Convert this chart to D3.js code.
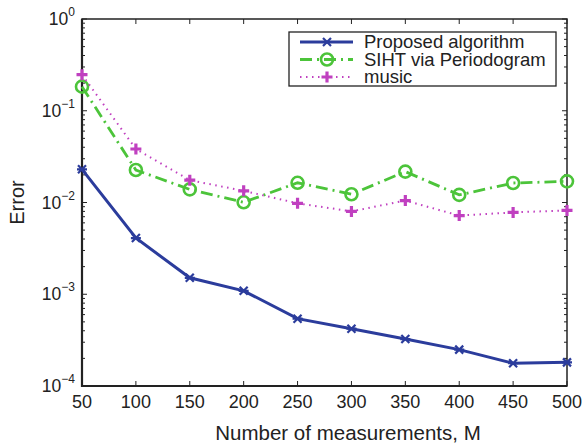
<html>
<head>
  <script src="https://d3js.org/d3.v7.min.js"></script>
  <style>
    body { margin: 0; background: #fff; }
    text { font-family: "Liberation Sans", Arial, sans-serif; fill: #222; }
    .frame { fill: none; stroke: #222; stroke-width: 1.5px; }
  </style>
</head>
<body>
  <svg id="chart" width="585" height="448"></svg>
  <script>
    // data
    const measurements = [50, 100, 150, 200, 250, 300, 350, 400, 450, 500];
    const proposed = [0.023, 0.0041, 0.00151, 0.00109, 0.000542, 0.000421, 0.000325, 0.000249, 0.000177, 0.000181];
    const siht = [0.183, 0.0226, 0.0139, 0.01005, 0.0164, 0.0123, 0.0217, 0.0121, 0.0163, 0.017];
    const music = [0.247, 0.0383, 0.0175, 0.0134, 0.0098, 0.0080, 0.0105, 0.0072, 0.0078, 0.0082];
    const seriesNames = ["Proposed algorithm", "SIHT via Periodogram", "music"];
    const xTicks = [50, 100, 150, 200, 250, 300, 350, 400, 450, 500];
    const yExponents = [0, -1, -2, -3, -4];

    const svg = d3.select("#chart");
    const margin = { top: 19, right: 18, bottom: 62, left: 82 };
    const w = 585 - margin.left - margin.right;
    const h = 448 - margin.top - margin.bottom;
    const g = svg.append("g").attr("transform", `translate(${margin.left},${margin.top})`);

    const x = d3.scaleLinear().domain([50, 500]).range([0, w]);
    const y = d3.scaleLog().domain([1e-4, 1]).range([h, 0]);

    // ticks, inward, on all four sides
    const minor = [];
    for (let e = -4; e < 0; e++) for (let k = 2; k <= 9; k++) minor.push(k * Math.pow(10, e));
    const ticks = g.append("g").attr("stroke", "#222").attr("stroke-width", 1);
    xTicks.forEach(t => {
      ticks.append("line").attr("x1", x(t)).attr("x2", x(t)).attr("y1", h).attr("y2", h - 5);
      ticks.append("line").attr("x1", x(t)).attr("x2", x(t)).attr("y1", 0).attr("y2", 5);
    });
    yExponents.forEach(e => {
      const v = Math.pow(10, e);
      ticks.append("line").attr("x1", 0).attr("x2", 5).attr("y1", y(v)).attr("y2", y(v));
      ticks.append("line").attr("x1", w).attr("x2", w - 5).attr("y1", y(v)).attr("y2", y(v));
    });
    minor.forEach(v => {
      ticks.append("line").attr("x1", 0).attr("x2", 3).attr("y1", y(v)).attr("y2", y(v));
      ticks.append("line").attr("x1", w).attr("x2", w - 3).attr("y1", y(v)).attr("y2", y(v));
    });

    g.append("rect").attr("class", "frame").attr("width", w).attr("height", h);
    // heavier left and bottom axis lines
    g.append("path").attr("d", `M0,0V${h}H${w}`).attr("fill", "none")
      .attr("stroke", "#222").attr("stroke-width", 2.2);

    // tick labels
    g.selectAll(".xlab").data(xTicks).join("text")
      .attr("x", d => x(d)).attr("y", h + 22)
      .attr("text-anchor", "middle").style("font-size", "18px")
      .text(d => d);

    const ylab = g.selectAll(".ylab").data(yExponents).join("text")
      .attr("x", -7).attr("y", d => y(Math.pow(10, d)) + 6)
      .attr("text-anchor", "end").style("font-size", "17.5px");
    ylab.append("tspan").text("10");
    ylab.append("tspan").attr("dy", -9).style("font-size", "12px")
      .text(d => d === 0 ? "0" : "\u2212" + (-d));

    // axis titles
    svg.append("text").attr("x", 348).attr("y", 440)
      .attr("text-anchor", "middle").style("font-size", "20.5px")
      .text("Number of measurements, M");
    svg.append("text").attr("transform", `translate(24,${margin.top + h / 2}) rotate(-90)`)
      .attr("text-anchor", "middle").style("font-size", "20px")
      .text("Error");

    // series
    const series = [
      { name: seriesNames[0], values: proposed, color: "#2b3c9c", dash: null, marker: "x", width: 3 },
      { name: seriesNames[1], values: siht, color: "#4cc43a", dash: "12,5,2,5", marker: "o", width: 2.8 },
      { name: seriesNames[2], values: music, color: "#c040c0", dash: "1.5,4.5", marker: "+", width: 2 }
    ];

    const line = d3.line().x((d, i) => x(measurements[i])).y(d => y(d));

    function drawMarker(sel, type, color) {
      if (type === "x") {
        sel.append("path").attr("d", "M-4,-4L4,4M-4,4L4,-4M-5,0L5,0")
          .attr("stroke", color).attr("stroke-width", 2.2).attr("fill", "none");
      } else if (type === "o") {
        sel.append("circle").attr("r", 6)
          .attr("stroke", color).attr("stroke-width", 2.6).attr("fill", "none");
      } else {
        sel.append("path").attr("d", "M-5.5,0L5.5,0M0,-5.5L0,5.5")
          .attr("stroke", color).attr("stroke-width", 3.2).attr("fill", "none");
      }
    }

    series.forEach(s => {
      g.append("path").datum(s.values)
        .attr("d", line)
        .attr("fill", "none")
        .attr("stroke", s.color)
        .attr("stroke-width", s.width)
        .attr("stroke-dasharray", s.dash);
      s.values.forEach((v, i) => {
        const m = g.append("g").attr("transform", `translate(${x(measurements[i])},${y(v)})`);
        drawMarker(m, s.marker, s.color);
      });
    });

    // legend
    const legend = svg.append("g").attr("transform", "translate(289,32)");
    legend.append("rect").attr("width", 267).attr("height", 54)
      .attr("fill", "#fff").attr("stroke", "#222").attr("stroke-width", 1.3);
    series.forEach((s, i) => {
      const ly = 10 + i * 17.5;
      const row = legend.append("g").attr("transform", `translate(0,${ly})`);
      row.append("line").attr("x1", 11).attr("x2", 64).attr("y1", 0).attr("y2", 0)
        .attr("stroke", s.color).attr("stroke-width", s.width)
        .attr("stroke-dasharray", s.dash);
      const m = row.append("g").attr("transform", "translate(38,0)");
      drawMarker(m, s.marker, s.color);
      row.append("text").attr("x", 75).attr("y", 6)
        .style("font-size", "18.5px").text(s.name);
    });
  </script>
</body>
</html>
